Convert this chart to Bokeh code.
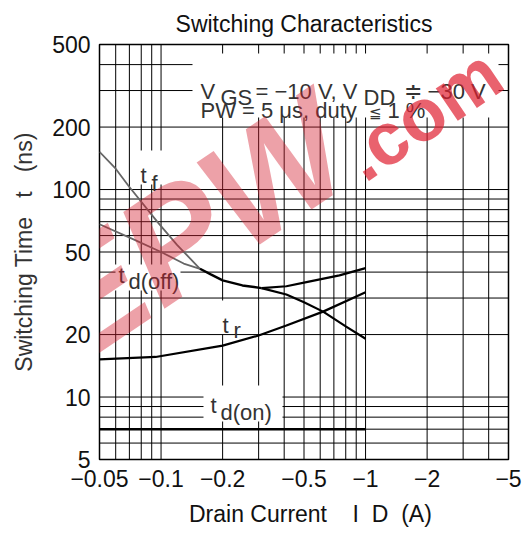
import math
from bokeh.plotting import figure
from bokeh.models import Range1d, FixedTicker, Label
from bokeh.embed import file_html
from bokeh.resources import INLINE

# ---------------- data ----------------
x_major = [0.05, 0.1, 0.2, 0.5, 1, 2, 5]
x_major_labels = ["\u22120.05", "\u22120.1", "\u22120.2", "\u22120.5", "\u22121", "\u22122", "\u22125"]
x_minor = [0.06, 0.07, 0.08, 0.09, 0.3, 0.4, 0.6, 0.7, 0.8, 0.9, 3, 4]
y_major = [5, 10, 20, 50, 100, 200, 500]
y_major_labels = ["5", "10", "20", "50", "100", "200", "500"]
y_minor = [6, 7, 8, 9, 30, 40, 60, 70, 80, 90, 300, 400]

# t_f and t_d(off) before they merge (grey)
tf_x = [0.05, 0.06, 0.0694, 0.0964, 0.12, 0.155]
tf_y = [152, 126, 104, 69.5, 54, 41.5]
tdoff_x = [0.05, 0.072, 0.1, 0.129, 0.155]
tdoff_y = [68, 58, 50, 44, 41.5]
# merged part
common_x = [0.155, 0.175, 0.2, 0.25, 0.31]
common_y = [41.5, 39.0, 36.5, 34.5, 33.5]
# after split
tf_hi_x = [0.31, 0.41, 0.5, 0.62, 0.8, 1.0]
tf_hi_y = [33.5, 31.2, 28.6, 25.8, 21.9, 19.1]
tdoff_hi_x = [0.31, 0.41, 0.514, 0.745, 1.0]
tdoff_hi_y = [33.5, 34.2, 35.8, 38.6, 41.8]
# t_r
tr_x = [0.05, 0.094, 0.2, 0.3, 0.41, 0.62, 1.0]
tr_y = [15.2, 15.6, 17.7, 19.8, 22.1, 25.8, 32.0]
# t_d(on)
tdon_x = [0.05, 1.0]
tdon_y = [7, 7]

X0, X1 = 0.05, 5
Y0, Y1 = 5, 500

# frame geometry (pixels)
W, H = 531, 534
PL, PR, PT, PB = 99, 508, 44, 459

def sx(px):
    return X0 * (X1 / X0) ** ((px - PL) / (PR - PL))

def sy(py):
    return Y0 * (Y1 / Y0) ** ((PB - py) / (PB - PT))

def px_of_x(v):
    return PL + (PR - PL) * math.log(v / X0) / math.log(X1 / X0)

def py_of_y(v):
    return PB - (PB - PT) * math.log(v / Y0) / math.log(Y1 / Y0)

FONT = "Liberation Sans"
NB = "\u00a0"

p = figure(width=W, height=H, x_axis_type="log", y_axis_type="log",
           x_range=Range1d(X0, X1), y_range=Range1d(Y0, Y1),
           output_backend="svg", toolbar_location=None,
           min_border_left=PL, min_border_right=W - PR,
           min_border_top=PT, min_border_bottom=H - PB)

p.title.text = "Switching Characteristics"
p.title.align = "center"
p.title.text_font = FONT
p.title.text_font_size = "23px"
p.title.text_font_style = "normal"
p.title.text_color = "#111111"
p.title.standoff = 16

xt = FixedTicker(ticks=x_major, minor_ticks=x_minor)
yt = FixedTicker(ticks=y_major, minor_ticks=y_minor)
p.xaxis.ticker = xt
p.yaxis.ticker = yt
p.xaxis.major_label_overrides = {v: s for v, s in zip(x_major, x_major_labels)}
p.yaxis.major_label_overrides = {v: s for v, s in zip(y_major, y_major_labels)}

for ax in (p.xaxis, p.yaxis):
    ax.axis_line_color = None
    ax.major_tick_line_color = None
    ax.minor_tick_line_color = None
    ax.major_tick_out = 0
    ax.minor_tick_out = 0
    ax.major_label_text_font = FONT
    ax.major_label_text_font_size = "23px"
    ax.major_label_text_color = "#111111"
    ax.axis_label_text_font = FONT
    ax.axis_label_text_font_size = "23px"
    ax.axis_label_text_font_style = "normal"
p.xaxis.major_label_standoff = 10
p.yaxis.major_label_standoff = 9

p.yaxis.axis_label = "Switching Time" + NB * 3 + "t" + NB * 3 + "(ns)"
p.yaxis.axis_label_text_color = "#333333"
p.yaxis.axis_label_standoff = 12

p.xaxis.axis_label = NB * 2 + "Drain Current" + NB * 4 + "I" + NB * 2 + "D" + NB * 2 + "(A)"
p.xaxis.axis_label_text_color = "#111111"
p.xaxis.axis_label_standoff = 11

p.outline_line_color = "black"
p.outline_line_width = 1.5
p.background_fill_color = "white"
p.border_fill_color = "white"

# ---- datasheet grid, interrupted behind the in-plot texts ----
p.xgrid.visible = False
p.ygrid.visible = False
gaps = [(192, 498, 53, 117), (133, 164, 150, 184), (115, 180, 264, 290),
        (200, 250, 300, 334), (203, 282, 385, 421)]   # text areas (px: l, r, t, b)

def pieces(lo, hi, cuts):
    segs = [(lo, hi)]
    for a, b in cuts:
        new = []
        for s, e in segs:
            if b <= s or a >= e:
                new.append((s, e))
                continue
            if a > s:
                new.append((s, a))
            if b < e:
                new.append((b, e))
        segs = new
    return segs

vx0, vy0, vx1, vy1 = [], [], [], []
for g in sorted(x_major + x_minor):
    c = px_of_x(g)
    cuts = [(t, b) for (l, r, t, b) in gaps if l < c < r]
    for s, e in pieces(PT, PB, cuts):
        vx0.append(g); vx1.append(g); vy0.append(sy(s)); vy1.append(sy(e))
hx0, hy0, hx1, hy1 = [], [], [], []
for g in sorted(y_major + y_minor):
    c = py_of_y(g)
    cuts = [(l, r) for (l, r, t, b) in gaps if t < c < b]
    for s, e in pieces(PL, PR, cuts):
        hy0.append(g); hy1.append(g); hx0.append(sx(s)); hx1.append(sx(e))
p.segment(x0=vx0, y0=vy0, x1=vx1, y1=vy1, line_color="black", line_width=1)
p.segment(x0=hx0, y0=hy0, x1=hx1, y1=hy1, line_color="black", line_width=1)

# curves
p.line(tf_x, tf_y, line_color="#666666", line_width=1.8)
p.line(tdoff_x, tdoff_y, line_color="#666666", line_width=1.8)
p.line(common_x, common_y, line_color="black", line_width=2.4)
p.line(tf_hi_x, tf_hi_y, line_color="black", line_width=2.2)
p.line(tdoff_hi_x, tdoff_hi_y, line_color="black", line_width=2.2)
p.line(tr_x, tr_y, line_color="black", line_width=2.2)
p.line(tdon_x, tdon_y, line_color="black", line_width=2.4)

def txt(s, px, py, size="22px", color="#333333", **kw):
    kw.setdefault("text_font", FONT)
    kw.setdefault("text_align", "left")
    kw.setdefault("text_baseline", "alphabetic")
    p.add_layout(Label(x=sx(px), y=sy(py), text=s, text_font_size=size,
                       text_color=color, **kw))

# condition text
txt("V", 200, 91)
txt("GS", 220, 97)
txt("= \u221210 V, V", 255, 91)
txt("DD", 363, 97)
txt("\u2251 \u221230 V", 403, 91)
txt("PW = 5 \u03bcs, duty", 200, 110)
txt("\u2266", 368, 112, size="15px")
txt("1 %", 387, 110)

# curve labels
txt("t", 140, 175)
txt("f", 151, 183)
txt("t", 118, 275)
txt("d(off)", 128, 281)
txt("t", 222, 325)
txt("r", 233, 330)
txt("t", 210, 405)
txt("d(on)", 220, 412)

# watermark of the source page (only its part inside the frame)
txt("EEPW", 150, 255, size="150px", color="#d42030", angle=34, angle_units="deg",
    text_font_style="bold italic", text_alpha=0.42, text_align="center",
    text_baseline="middle", level="overlay")
txt(".com", 350, 162, size="74px", color="#e02030", angle=34, angle_units="deg",
    text_font_style="bold", text_alpha=0.7, level="overlay")

open("out.html", "w").write(file_html(p, INLINE))
